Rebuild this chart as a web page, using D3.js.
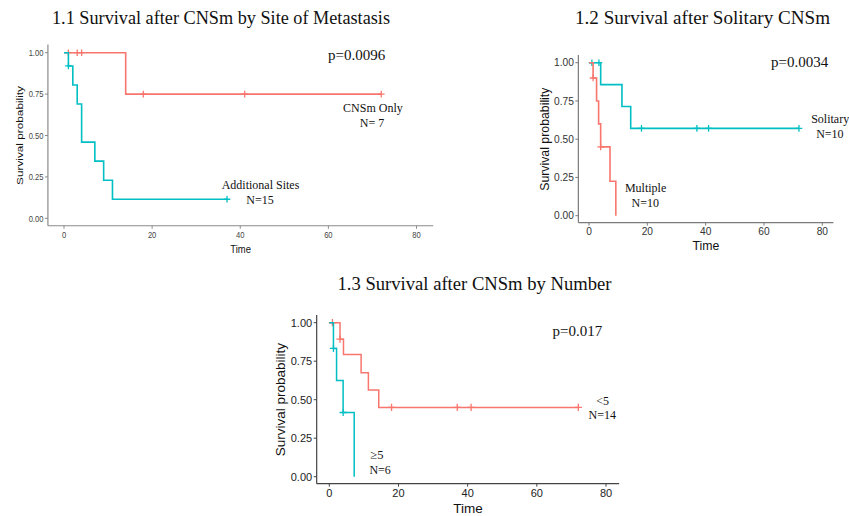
<!DOCTYPE html>
<html><head><meta charset="utf-8">
<script src="https://cdn.jsdelivr.net/npm/d3@7"></script>
<style>body{margin:0;background:#fff}svg{display:block}</style>
</head><body>
<script>
// ---------- DATA ----------
const xTicks = [0, 20, 40, 60, 80];
const yTicks = [0, 0.25, 0.5, 0.75, 1];
const yTickLabels = ["0.00", "0.25", "0.50", "0.75", "1.00"];

// 1.1 Site of metastasis
const p1CnsTime   = [0, 14, 72];
const p1CnsSurv   = [1, 0.75, 0.75];
const p1CnsCens   = [1, 3, 4, 18, 41, 72];
const p1AddTime   = [0, 1, 2, 3, 4, 7, 9, 11, 37];
const p1AddSurv   = [1, 0.92, 0.805, 0.69, 0.46, 0.345, 0.23, 0.115, 0.115];
const p1AddCens   = [1, 37];

// 1.2 Solitary vs multiple
const p2SolTime   = [0, 4, 11.3, 14.3, 72];
const p2SolSurv   = [1, 0.857, 0.714, 0.571, 0.571];
const p2SolCens   = [1, 3.4, 18, 37, 41, 72];
const p2MulTime   = [0, 1.4, 2.6, 3.3, 4, 7.2, 9.2];
const p2MulSurv   = [1, 0.9, 0.75, 0.6, 0.45, 0.225, 0];
const p2MulCens   = [1.4, 4];

// 1.3 By number
const p3LtTime    = [0, 3.1, 4.1, 9.2, 11.3, 14.3, 72];
const p3LtSurv    = [1, 0.893, 0.794, 0.675, 0.563, 0.45, 0.45];
const p3LtCens    = [0.9, 3.1, 18, 37, 41, 72];
const p3GeTime    = [0, 1.2, 2.1, 4, 7.2];
const p3GeSurv    = [1, 0.833, 0.625, 0.417, 0];
const p3GeCens    = [1.2, 4];

const RED = "#F8766D", CYAN = "#00BFC4";

// ---------- LAYOUT ----------
const W = 849, H = 516;
const svg = d3.select("body").append("svg").attr("width", W).attr("height", H);

const panels = [
  { title: "1.1 Survival after CNSm by Site of Metastasis", tx: 221, ty: 24, tw: 338,
    x0: 64, x80: 416.5, y0: 218.3, y1: 52.7, sx: 0.8,
    tickFont: 9.5, labFont: 11.8, axisCol: "#8a8a8a", tickCol: "#444", lw: 1.6, cs: 3.3,
    labX: 20, timeY: 252.7,
    series: [
      { t: p1CnsTime, s: p1CnsSurv, c: p1CnsCens, col: RED },
      { t: p1AddTime, s: p1AddSurv, c: p1AddCens, col: CYAN }
    ],
    notes: [
      { text: "p=0.0096", x: 66.4, y: 0.956, size: 15 },
      { text: "CNSm Only", x: 70.1, y: 0.644, size: 12 },
      { text: "N= 7", x: 69.9, y: 0.553, size: 12 },
      { text: "Additional  Sites", x: 44.6, y: 0.175, size: 12 },
      { text: "N=15", x: 44.5, y: 0.086, size: 12 }
    ] },
  { title: "1.2 Survival after Solitary CNSm", tx: 702.5, ty: 24, tw: 255,
    x0: 589, x80: 822.3, y0: 215.7, y1: 62.7, sx: 1,
    tickFont: 10.2, labFont: 12.3, axisCol: "#7a7a7a", tickCol: "#333", lw: 1.6, cs: 3.3,
    labX: 545, timeY: 250,
    series: [
      { t: p2SolTime, s: p2SolSurv, c: p2SolCens, col: CYAN },
      { t: p2MulTime, s: p2MulSurv, c: p2MulCens, col: RED }
    ],
    notes: [
      { text: "p=0.0034", x: 72.2, y: 0.97, size: 15 },
      { text: "Solitary", x: 82.7, y: 0.604, size: 12 },
      { text: "N=10", x: 82.6, y: 0.51, size: 12 },
      { text: "Multiple", x: 19.4, y: 0.157, size: 12 },
      { text: "N=10", x: 19.3, y: 0.059, size: 12 }
    ] },
  { title: "1.3  Survival after CNSm by Number", tx: 474.5, ty: 290, tw: 274,
    x0: 329.3, x80: 606, y0: 476.7, y1: 322.7, sx: 1,
    tickFont: 11, labFont: 13.5, axisCol: "#444", tickCol: "#222", lw: 1.5, cs: 3.6,
    labX: 280, timeY: 512.5,
    series: [
      { t: p3LtTime, s: p3LtSurv, c: p3LtCens, col: RED },
      { t: p3GeTime, s: p3GeSurv, c: p3GeCens, col: CYAN }
    ],
    notes: [
      { text: "p=0.017", x: 71.7, y: 0.914, size: 15 },
      { text: "<5", x: 79.0, y: 0.466, size: 12 },
      { text: "N=14", x: 78.9, y: 0.373, size: 12 },
      { text: "\u22655", x: 13.8, y: 0.113, size: 12.5 },
      { text: "N=6", x: 14.7, y: 0.018, size: 12 }
    ] }
];

const sans = "'Liberation Sans', Arial, sans-serif";
const serif = "'Liberation Serif', 'Times New Roman', serif";

function stepValue(times, surv, t) {
  let v = surv[0];
  for (let i = 0; i < times.length; i++) if (times[i] <= t) v = surv[i];
  return v;
}

panels.forEach(p => {
  const x = d3.scaleLinear().domain([0, 80]).range([p.x0, p.x80]);
  const y = d3.scaleLinear().domain([0, 1]).range([p.y0, p.y1]);
  const g = svg.append("g");
  const xl = x(-3.65), xr = x(83.8), yb = y(-0.045), yt = y(1.05);

  // title
  svg.append("text").attr("x", p.tx).attr("y", p.ty).attr("text-anchor", "middle")
    .attr("font-family", serif).attr("font-size", 18).attr("fill", "#111")
    .attr("textLength", p.tw).attr("lengthAdjust", "spacingAndGlyphs").text(p.title);

  // axes lines
  g.append("line").attr("x1", xl).attr("x2", xl).attr("y1", yt).attr("y2", yb)
    .attr("stroke", p.axisCol).attr("stroke-width", 1.2);
  g.append("line").attr("x1", xl).attr("x2", xr).attr("y1", yb).attr("y2", yb)
    .attr("stroke", p.axisCol).attr("stroke-width", 1.2);

  // y ticks
  yTicks.forEach((v, i) => {
    g.append("line").attr("x1", xl - 3).attr("x2", xl).attr("y1", y(v)).attr("y2", y(v))
      .attr("stroke", p.axisCol).attr("stroke-width", 1);
    g.append("text").attr("transform", `translate(${xl - 4.5},${y(v)}) scale(${p.sx},1)`)
      .attr("text-anchor", "end").attr("dy", "0.35em")
      .attr("font-family", sans).attr("font-size", p.tickFont).attr("fill", p.tickCol)
      .text(yTickLabels[i]);
  });
  // x ticks
  xTicks.forEach(v => {
    g.append("line").attr("x1", x(v)).attr("x2", x(v)).attr("y1", yb).attr("y2", yb + 3)
      .attr("stroke", p.axisCol).attr("stroke-width", 1);
    g.append("text").attr("transform", `translate(${x(v)},${yb + 4.5}) scale(${p.sx},1)`)
      .attr("text-anchor", "middle").attr("dy", "0.8em")
      .attr("font-family", sans).attr("font-size", p.tickFont).attr("fill", p.tickCol)
      .text(v);
  });
  // axis labels
  g.append("text").attr("transform", `translate(${(xl + xr) / 2},${p.timeY}) scale(${p.sx},1)`)
    .attr("text-anchor", "middle").attr("font-family", sans).attr("font-size", p.labFont)
    .attr("fill", "#111").text("Time");
  g.append("text")
    .attr("transform", `translate(${p.labX},${(y(0) + y(1)) / 2}) scale(${p.sx},1) rotate(-90)`)
    .attr("text-anchor", "middle").attr("dy", "0.35em").attr("font-family", sans)
    .attr("font-size", p.labFont).attr("fill", "#111").text("Survival probability");

  // curves
  const line = d3.line().x(d => x(d[0])).y(d => y(d[1])).curve(d3.curveStepAfter);
  p.series.forEach(se => {
    const pts = se.t.map((t, i) => [t, se.s[i]]);
    g.append("path").attr("d", line(pts)).attr("fill", "none")
      .attr("stroke", se.col).attr("stroke-width", p.lw);
    se.c.forEach(ct => {
      const cy = y(stepValue(se.t, se.s, ct)), cx = x(ct);
      g.append("path")
        .attr("d", `M${cx - p.cs},${cy}H${cx + p.cs}M${cx},${cy - p.cs}V${cy + p.cs}`)
        .attr("stroke", se.col).attr("stroke-width", 1.3).attr("fill", "none");
    });
  });

  // annotations
  p.notes.forEach(n => {
    g.append("text").attr("x", x(n.x)).attr("y", y(n.y)).attr("text-anchor", "middle")
      .attr("font-family", serif).attr("font-size", n.size).attr("fill", "#111").text(n.text);
  });
});
</script>
</body></html>
